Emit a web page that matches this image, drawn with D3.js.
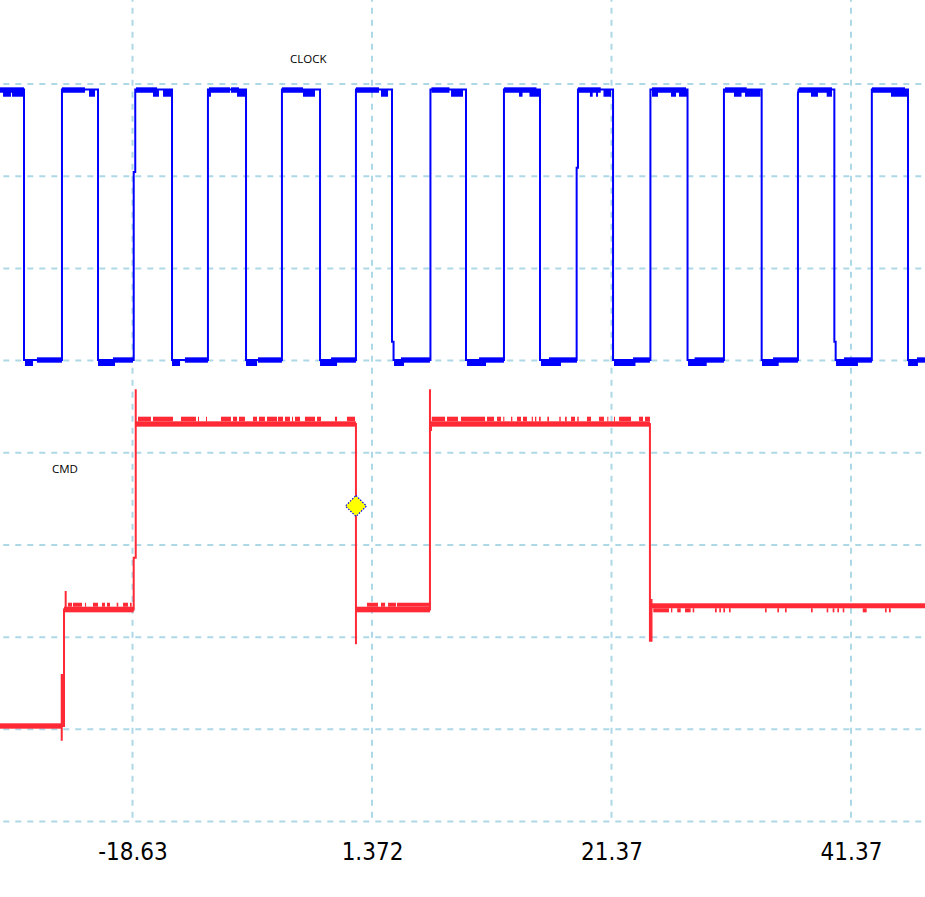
<!DOCTYPE html>
<html><head><meta charset="utf-8">
<script src="https://cdn.jsdelivr.net/npm/d3@7"></script>
<style>
html,body{margin:0;padding:0;background:#fff;}
svg{display:block;background:#fff;}
</style></head>
<body><svg id="chart" width="925" height="897"></svg>
<script>
// ================= DATA =================
// time axis (horizontal) and divisions (vertical)
const xDomain = [-29.695, 47.55];
const yDomain = [0, 8];
const xTickValues = [-18.63, 1.372, 21.37, 41.37];
const xTickLabels = ["-18.63", "1.372", "21.37", "41.37"];
const yGridValues = [0, 1, 2, 3, 4, 5, 6, 7, 8];

// CLOCK trace: [time, level]
const clockPoints = [
  [-29.70,7.94],[-27.69,7.94],[-27.69,5.006],[-24.52,5.006],[-24.52,7.94],[-21.51,7.94],[-21.51,5.006],
  [-18.53,5.006],[-18.53,7.045],[-18.40,7.045],[-18.40,7.94],
  [-15.33,7.94],[-15.33,5.006],[-12.33,5.006],[-12.33,7.94],[-9.15,7.94],[-9.15,5.006],
  [-6.15,5.006],[-6.15,7.94],[-2.97,7.94],[-2.97,5.006],[0.03,5.006],[0.03,7.94],
  [3.04,7.94],[3.04,5.204],[3.17,5.204],[3.17,5.006],
  [6.25,5.006],[6.25,7.94],[9.22,7.94],[9.22,5.006],[12.39,5.006],[12.39,7.94],[15.40,7.94],[15.40,5.006],
  [18.46,5.006],[18.46,7.092],[18.57,7.092],[18.57,7.94],
  [21.50,7.94],[21.50,5.006],[24.62,5.006],[24.62,7.94],[27.72,7.94],[27.72,5.006],
  [30.76,5.006],[30.76,7.94],[33.91,7.94],[33.91,5.006],
  [36.94,5.006],[36.94,7.90],[37.00,7.94],
  [39.98,7.94],[39.98,5.204],[40.09,5.204],[40.09,5.006],
  [43.11,5.006],[43.11,7.94],[46.13,7.94],[46.13,5.006],[47.55,5.006]
];
// CLOCK noise bands: [t0, t1, vTop, vBottom]
const clockHighBands = [
  [-29.70,-27.69],[-24.52,-22.60],[-18.34,-16.58],[-12.24,-10.49],[-10.41,-9.74],[-6.15,-4.39],
  [0.03,1.95],[6.33,7.84],[12.39,15.10],[18.57,20.47],[24.75,27.59],[30.85,32.66],[37.03,39.78],[43.12,45.88]
];
const clockHighDips = [
  [-29.44,-28.78],[-28.69,-27.77],[-22.26,-21.76],[-16.92,-16.42],[-16.08,-15.33],
  [-12.33,-12.08],[-9.90,-9.15],[-4.39,-3.39],[2.12,2.71],[7.97,8.97],[13.65,13.94],[14.52,15.40],
  [19.57,19.80],[20.08,20.24],[20.70,21.33],[24.75,25.25],[26.34,26.76],[27.01,27.72],
  [31.60,32.23],[32.52,33.82],[38.03,38.61],[39.34,39.78],[44.71,46.13]
];
const clockLowBands = [
  [-26.61,-24.52],[-20.26,-18.59],[-14.25,-12.33],[-8.15,-6.15],[-2.05,0.03],[3.79,6.21],
  [10.31,12.39],[16.15,18.49],[23.17,24.58],[28.31,30.76],[34.86,36.94],[40.79,43.12],[46.88,47.55]
];
const clockLowDips = [
  [-27.61,-26.94],[-21.51,-20.09],[-15.33,-14.66],[-9.15,-8.23],[-2.97,-1.55],[3.21,4.04],
  [9.30,10.89],[15.48,17.15],[21.58,23.37],[27.76,29.32],[33.94,35.33],[40.12,41.95],[46.13,46.96]
];
const clockLevels = {hiTop:7.964, hiBot:7.905, hiBase:7.94, hiDip:7.862, loTop:5.035, loBot:4.977, loBase:5.006, loDip:4.941};

// CMD trace: [time, level]
const cmdPoints = [
  [-29.70,1.036],[-24.54,1.036],[-24.54,0.876],[-24.54,1.589],[-24.48,1.589],[-24.48,1.036],
  [-24.35,1.036],[-24.35,2.30],[-24.21,2.30],[-24.21,2.50],[-24.21,2.30],
  [-18.53,2.30],[-18.53,2.861],[-18.36,2.861],[-18.36,4.688],[-18.36,4.312],
  [0.03,4.312],[0.03,1.922],[0.03,2.30],
  [6.21,2.30],[6.21,4.688],[6.21,4.246],[6.30,4.246],[6.30,4.312],
  [24.58,4.312],[24.58,1.961],[24.71,1.961],[24.71,2.414],[24.71,2.338],[47.55,2.338]
];
// CMD noise bands: [t0, t1, vTop, vBottom]
const cmdBands = [
  [-29.70,-24.55,1.065,1.007],
  [-24.35,-18.53,2.330,2.269],
  [-18.36,0.03,4.341,4.283],
  [0.03,6.21,2.330,2.269],
  [6.21,24.58,4.341,4.283],
  [24.62,47.55,2.367,2.313]
];
const cmdHighTicks = [
  [-18.17,-17.09],[-16.92,-15.25],[-14.58,-13.33],[-13.16,-13.08],[-12.49,-12.41],[-11.24,-10.41],
  [-10.24,-9.90],[-9.74,-9.24],[-8.57,-8.23],[-8.07,-7.57],[-7.40,-6.56],[-6.48,-6.06],[-5.90,-5.48],
  [-5.31,-5.23],[-5.06,-4.64],[-4.23,-3.39],[-3.22,-2.89],[-1.72,-1.55],[-0.72,-0.05],
  [6.36,7.47],[7.63,8.55],[8.80,10.81],[10.97,11.56],[11.81,12.14],[12.33,12.42],[12.98,13.09],
  [13.48,13.81],[13.98,14.31],[14.71,14.81],[14.98,15.09],[15.32,15.46],[16.01,16.15],[17.01,17.13],
  [17.49,17.63],[17.99,18.32],[18.51,18.63],[19.32,19.66],[20.33,20.74],[21.02,21.10],[21.58,21.66],
  [22.00,23.00],[23.67,24.00],[24.17,24.58]
];
const cmdMidTicksUp = [
  [-24.02,-23.68],[-23.60,-22.85],[-22.60,-22.51],[-21.93,-21.51],[-21.18,-20.93],[-20.76,-20.51],
  [-19.95,-19.82],[-19.42,-19.01],[-18.84,-18.70],
  [0.95,1.87],[2.12,2.46],[2.71,3.37],[3.46,6.21]
];
const cmdMidTicksDown = [
  [24.86,26.17],[26.34,26.45],[26.86,27.15],[27.51,27.98],[28.15,28.28],[30.01,30.16],[30.37,30.51],
  [30.71,30.85],[31.18,31.32],[34.19,34.33],[35.22,35.36],[35.86,36.00],[38.03,38.17],[39.34,39.47],
  [39.84,39.98],[40.23,40.37],[40.68,40.81],[42.35,42.68],[44.21,44.35],[44.54,44.69]
];
const cmdLevels = {hiTop:4.341, hiTick:4.391, midTop:2.330, midTick:2.373, mid3Bot:2.313, mid3Tick:2.269};

// trigger marker
const markerPoint = [0.03, 3.422];

// trace labels: [text, time, level]
const traceLabels = [["CLOCK", -5.47, 8.228], ["CMD", -25.35, 3.780]];

// ================= DRAW =================
const W = 925, H = 897;
const svg = d3.select("#chart");
const x = d3.scaleLinear().domain(xDomain).range([0, W]);
const y = d3.scaleLinear().domain(yDomain).range([821.5, 84]);

const gridColor = "#add8e6";
const blue = "#0000ff";
const red = "#ff2a35";

// grid
const grid = svg.append("g");
grid.selectAll("line.h").data(yGridValues).join("line")
  .attr("x1", 0).attr("x2", W)
  .attr("y1", d => y(d)).attr("y2", d => y(d))
  .attr("stroke", gridColor).attr("stroke-width", 2)
  .attr("stroke-dasharray", "6,6").attr("stroke-dashoffset", 8.7);
grid.selectAll("line.v").data(xTickValues).join("line")
  .attr("x1", d => x(d)).attr("x2", d => x(d))
  .attr("y1", 0).attr("y2", y(0))
  .attr("stroke", gridColor).attr("stroke-width", 2)
  .attr("stroke-dasharray", "6,6").attr("stroke-dashoffset", 4.3);

// x axis labels
const axis = d3.axisBottom(x).tickValues(xTickValues)
  .tickFormat((d, i) => xTickLabels[i]).tickSize(0).tickPadding(21);
const ag = svg.append("g").attr("transform", `translate(0,${y(0)})`).call(axis);
ag.select(".domain").remove();
ag.selectAll("text")
  .attr("font-family", "'DejaVu Sans Condensed', 'DejaVu Sans', sans-serif")
  .attr("font-stretch", "condensed")
  .attr("font-size", 24).attr("fill", "#000");

function rects(g, data, yTop, yBot, color) {
  g.selectAll(null).data(data).join("rect")
    .attr("x", d => x(d[0])).attr("width", d => Math.max(1, x(d[1]) - x(d[0])))
    .attr("y", y(yTop)).attr("height", y(yBot) - y(yTop))
    .attr("fill", color);
}

const line = d3.line().x(d => x(d[0])).y(d => y(d[1]));

// CLOCK
const gc = svg.append("g");
gc.append("path").datum(clockPoints).attr("d", line)
  .attr("fill", "none").attr("stroke", blue).attr("stroke-width", 2)
  .attr("stroke-linejoin", "miter").attr("stroke-linecap", "square");
rects(gc, clockHighBands, clockLevels.hiTop, clockLevels.hiBot, blue);
rects(gc, clockHighDips, clockLevels.hiBase, clockLevels.hiDip, blue);
rects(gc, clockLowBands, clockLevels.loTop, clockLevels.loBot, blue);
rects(gc, clockLowDips, clockLevels.loBase, clockLevels.loDip, blue);

// CMD
const gm = svg.append("g");
gm.append("path").datum(cmdPoints).attr("d", line)
  .attr("fill", "none").attr("stroke", red).attr("stroke-width", 2)
  .attr("stroke-linejoin", "miter").attr("stroke-linecap", "butt");
gm.selectAll(null).data(cmdBands).join("rect")
  .attr("x", d => x(d[0])).attr("width", d => x(d[1]) - x(d[0]))
  .attr("y", d => y(d[2])).attr("height", d => y(d[3]) - y(d[2]))
  .attr("fill", red);
rects(gm, cmdHighTicks, cmdLevels.hiTick, cmdLevels.hiTop, red);
rects(gm, cmdMidTicksUp, cmdLevels.midTick, cmdLevels.midTop, red);
rects(gm, cmdMidTicksDown, cmdLevels.mid3Bot, cmdLevels.mid3Tick, red);

// trigger marker
svg.append("path")
  .attr("d", d3.symbol().type(d3.symbolSquare).size(220)())
  .attr("transform", `translate(${x(markerPoint[0])},${y(markerPoint[1])}) rotate(45)`)
  .attr("fill", "#ffff00").attr("stroke", blue).attr("stroke-width", 1.2)
  .attr("stroke-dasharray", "1.5,1.5");

// trace labels
svg.selectAll("text.trace").data(traceLabels).join("text")
  .attr("class", "trace")
  .attr("x", d => x(d[1])).attr("y", d => y(d[2]))
  .attr("font-family", "'Open Sans', 'Noto Sans', sans-serif")
  .attr("font-size", 11.5).attr("fill", "#000")
  .text(d => d[0]);
</script>
</body></html>
